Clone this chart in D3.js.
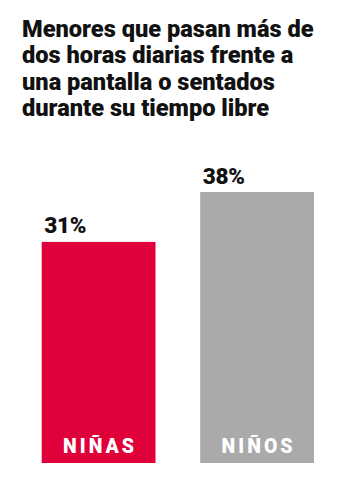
<!DOCTYPE html>
<html><head><meta charset="utf-8">
<script src="https://cdn.jsdelivr.net/npm/d3@7"></script>
<style>body{margin:0;background:#fff}svg{display:block}</style>
</head><body>
<script>
const titleLines = ["Menores que pasan más de","dos horas diarias frente a","una pantalla o sentados","durante su tiempo libre"];
const categories = ["NIÑAS","NIÑOS"];
const values = [31,38];
const valueLabels = ["31%","38%"];
const colors = ["#e0003a","#aaaaaa"];

const W=342,H=483;
const svg=d3.select("body").append("svg").attr("width",W).attr("height",H);
const title=svg.append("g");
titleLines.forEach((t,i)=>{
  title.append("text").attr("x",22).attr("y",36.5+i*26.6).text(t)
    .attr("font-family","Roboto").attr("font-weight",900).attr("font-size",23.6).attr("fill","#111");
});
const x=d3.scaleBand().domain(categories).range([41.7,314]).paddingInner(0.282).paddingOuter(0);
const y=d3.scaleLinear().domain([0,38]).range([463,192]);
svg.selectAll("rect.bar").data(values).join("rect")
  .attr("x",(d,i)=>x(categories[i])).attr("width",x.bandwidth())
  .attr("y",d=>y(d)).attr("height",d=>y(0)-y(d)).attr("fill",(d,i)=>colors[i]);
svg.selectAll("text.val").data(values).join("text")
  .attr("x",(d,i)=>x(categories[i])+2.5).attr("y",d=>y(d)-8.5).text((d,i)=>valueLabels[i])
  .attr("font-family","Roboto").attr("font-weight",900).attr("font-size",22.5).attr("letter-spacing",-0.3).attr("fill","#111");
svg.selectAll("text.cat").data(categories).join("text")
  .attr("x",d=>x(d)+x.bandwidth()/2+1.5).attr("y",453.3).attr("text-anchor","middle").text(d=>d)
  .attr("font-family","Roboto").attr("font-weight",900).attr("font-size",19.5).attr("letter-spacing",3).attr("fill","#fff");
</script>
</body></html>
